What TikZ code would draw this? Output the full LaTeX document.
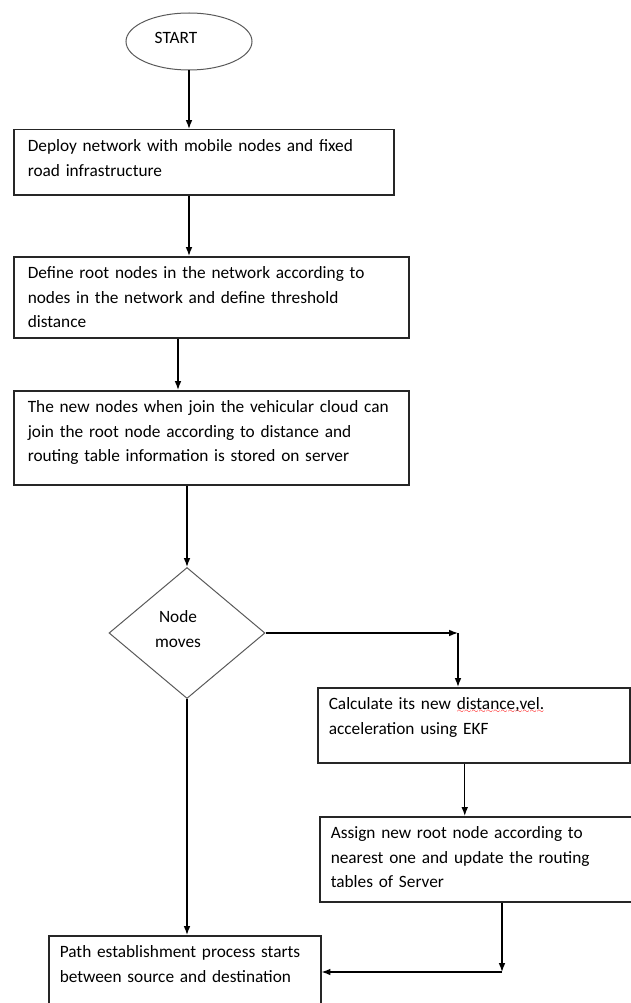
\documentclass[tikz,border=0pt]{standalone}
\usepackage{fontspec}
\setmainfont{Carlito}
\usetikzlibrary{arrows.meta,shapes.geometric}
% red spell-check wave under a word
\newcommand\spellwave[1]{\setbox0\hbox{#1}\rlap{\color{red}\raisebox{-3.5pt}[0pt][0pt]{\hbox to \wd0{\xleaders\hbox{$\scriptscriptstyle\sim$}\hfil}}}\box0}

\begin{document}
\begin{tikzpicture}[x=1pt,y=-1pt,>=Latex,font=\fontsize{17.3}{24.5}\selectfont,
 process/.style 2 args={draw=black!85,line width=1.5pt,anchor=north west,align=left,inner xsep=14pt,inner ysep=0pt,text width=#1,text height=22pt,text depth=#2},
 terminal/.style={ellipse,draw=black!65,line width=1pt,minimum width=126pt,minimum height=57pt},
 decision/.style={diamond,draw=black!65,line width=1pt,minimum width=156pt,minimum height=131pt,inner sep=0pt},
 line/.style={->,line width=1.3pt}]
\useasboundingbox (0,0) rectangle (631,1003);
\clip (0,0) rectangle (631,1003);

\node[terminal] (start) at (189,41.5) {};
\node (startlbl) at (176,38) {START};
\node[process={352pt}{43pt}] (deploy) at (13,129) {Deploy network with mobile nodes and fixed\\road infrastructure};
\node[process={367pt}{59pt}] (define) at (13,256) {Define root nodes in the network according to\\nodes in the network and define threshold\\distance};
\node[process={367pt}{72pt}] (join) at (13,390) {The new nodes when join the vehicular cloud can\\join the root node according to distance and\\routing table information is stored on server};
\node[decision] (moves) at (187,633) {};
\node[align=center] (moveslbl) at (178,629) {Node\\moves};
\node[process={290pt}{53pt},inner xsep=11pt] (calc) at (317,687) {Calculate its new \spellwave{distance,vel.}\\acceleration using EKF};
\node[process={308pt}{63pt},inner xsep=11pt] (assign) at (319,816) {Assign new root node according to\\nearest one and update the routing\\tables of Server};
\node[process={250pt}{78pt},inner xsep=11pt] (path) at (48,935) {Path establishment process starts\\between source and destination};
\coordinate (turn) at (458,633);
\coordinate (corner) at (502,972);

\draw[line] (start) -- (deploy.north -| start);
\draw[line] (deploy.south -| start) -- (define.north -| start);
\draw[line] (define.south -| moveslbl) -- (join.north -| moveslbl);
\draw[line] (join.south -| moves) -- (moves);
\draw[line] (moves) -- (turn);
\draw[line] (turn) -- (calc.north -| turn);
\draw[line] ([xshift=-9pt]calc.south) -- ([xshift=-9pt]calc.south |- assign.north);
\draw[line] (moves.south) -- (moves.south |- path.north);
\draw[line] (assign.south -| corner) -- (corner);
\draw[line] (corner) -- (corner -| path.east);
\end{tikzpicture}
\end{document}
